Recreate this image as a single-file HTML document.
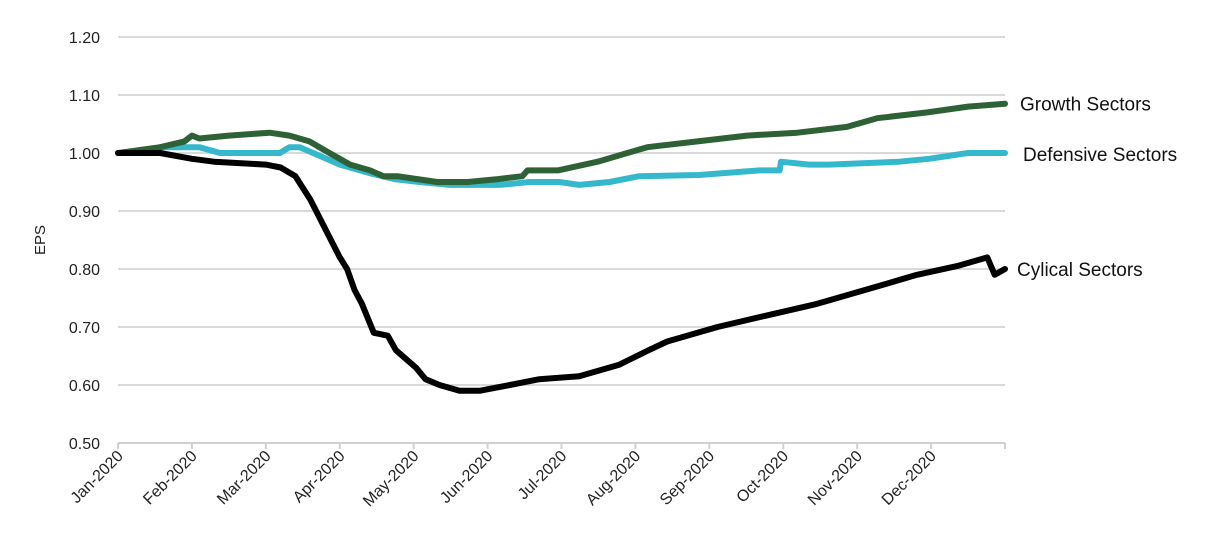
<!DOCTYPE html>
<html><head><meta charset="utf-8"><style>
body{margin:0;background:#fff;}
svg{display:block;font-family:"Liberation Sans",sans-serif;}
</style></head><body>
<svg id="chart" width="1212" height="546"></svg>
<script>
const monthLabels=["Jan-2020","Feb-2020","Mar-2020","Apr-2020","May-2020","Jun-2020","Jul-2020","Aug-2020","Sep-2020","Oct-2020","Nov-2020","Dec-2020"];
const yTicks=[0.5,0.6,0.7,0.8,0.9,1.0,1.1,1.2];
const cycT=[0,0.57,1,1.3,2,2.2,2.4,2.6,2.8,3,3.1,3.2,3.3,3.46,3.65,3.76,4.03,4.16,4.35,4.62,4.89,5.3,5.7,6.24,6.78,7.18,7.43,7.84,8.11,8.78,9.46,10.14,10.81,11.35,11.76,11.86,12];
const cycV=[1.00,1.00,0.99,0.985,0.98,0.975,0.96,0.92,0.87,0.82,0.80,0.764,0.74,0.69,0.685,0.66,0.63,0.61,0.60,0.59,0.59,0.60,0.61,0.615,0.635,0.66,0.675,0.69,0.70,0.72,0.74,0.765,0.79,0.805,0.82,0.79,0.80];
const groT=[0,0.57,0.9,1,1.1,1.5,2.05,2.32,2.59,2.86,3.14,3.41,3.59,3.78,4.05,4.32,4.73,5.14,5.47,5.54,5.95,6.49,6.89,7.16,7.84,8.51,9.19,9.86,10.27,10.95,11.5,12];
const groV=[1.00,1.01,1.02,1.03,1.025,1.03,1.035,1.03,1.02,1.00,0.98,0.97,0.96,0.96,0.955,0.95,0.95,0.955,0.96,0.97,0.97,0.985,1.00,1.01,1.02,1.03,1.035,1.045,1.06,1.07,1.08,1.085];
const defT=[0,0.43,0.57,1.1,1.38,2.19,2.32,2.46,2.73,3,3.41,3.74,4.08,4.49,5.16,5.57,5.97,6.24,6.65,7.05,7.86,8.68,8.95,8.97,9.35,9.62,10.57,10.97,11.5,12];
const defV=[1.00,1.00,1.01,1.01,1.00,1.00,1.01,1.01,0.995,0.98,0.965,0.955,0.95,0.945,0.945,0.95,0.95,0.945,0.95,0.96,0.962,0.97,0.97,0.985,0.98,0.98,0.985,0.99,1.00,1.00];

const svg=document.getElementById('chart');
const NS='http://www.w3.org/2000/svg';
const x0=118,x1=1005,yTop=37,yBot=443;
const xs=t=>x0+(x1-x0)*t/12;
const ys=v=>yBot-(v-0.5)/0.7*(yBot-yTop);
function mk(tag,attrs,parent){const e=document.createElementNS(NS,tag);for(const k in attrs)e.setAttribute(k,attrs[k]);(parent||svg).appendChild(e);return e;}

yTicks.forEach(v=>{
  const g=mk('line',{x1:x0,x2:x1,y1:ys(v),y2:ys(v),stroke:'#d9d9d9','stroke-width':2});
  
  
  const t=mk('text',{x:100,y:ys(v)+6,'text-anchor':'end','font-size':16,fill:'#222'});
  t.textContent=v.toFixed(2);
  
  
});
mk('line',{x1:x0,x2:x1,y1:yBot,y2:yBot,stroke:'#d0d0d0','stroke-width':2});
monthLabels.concat(['']).forEach((m,i)=>{
  const x=xs(i);
  const tk=mk('line',{x1:x,x2:x,y1:yBot,y2:yBot+6,stroke:'#d0d0d0','stroke-width':2});
  
  
  if(!m)return;
  const t=mk('text',{x:x+6,y:yBot+14,'text-anchor':'end','font-size':16,fill:'#222',transform:`rotate(-45 ${x+6} ${yBot+14})`});
  t.textContent=m;
  
  
});
const yl=mk('text',{x:45,y:240,'text-anchor':'middle','font-size':15,fill:'#222',transform:'rotate(-90 45 240)'});
yl.textContent='EPS';



function series(T,V,color,name,label,lx,ly){
  const d=T.map((t,i)=>(i?'L':'M')+xs(t).toFixed(1)+' '+ys(V[i]).toFixed(1)).join(' ');
  const p=mk('path',{d:d,fill:'none',stroke:color,'stroke-width':6,'stroke-linejoin':'round','stroke-linecap':'round'});
  
  
  const t=mk('text',{x:lx,y:ly,'font-size':19,fill:'#111'});
  t.textContent=label;
  
  
}
series(defT,defV,'#35b8cb','defensive-line','Defensive Sectors',1023,ys(defV[defV.length-1])+8);
series(groT,groV,'#2f6137','growth-line','Growth Sectors',1020,ys(groV[groV.length-1])+7);
series(cycT,cycV,'#000','cyclical-line','Cylical Sectors',1017,ys(cycV[cycV.length-1])+7);
</script>
</body></html>
